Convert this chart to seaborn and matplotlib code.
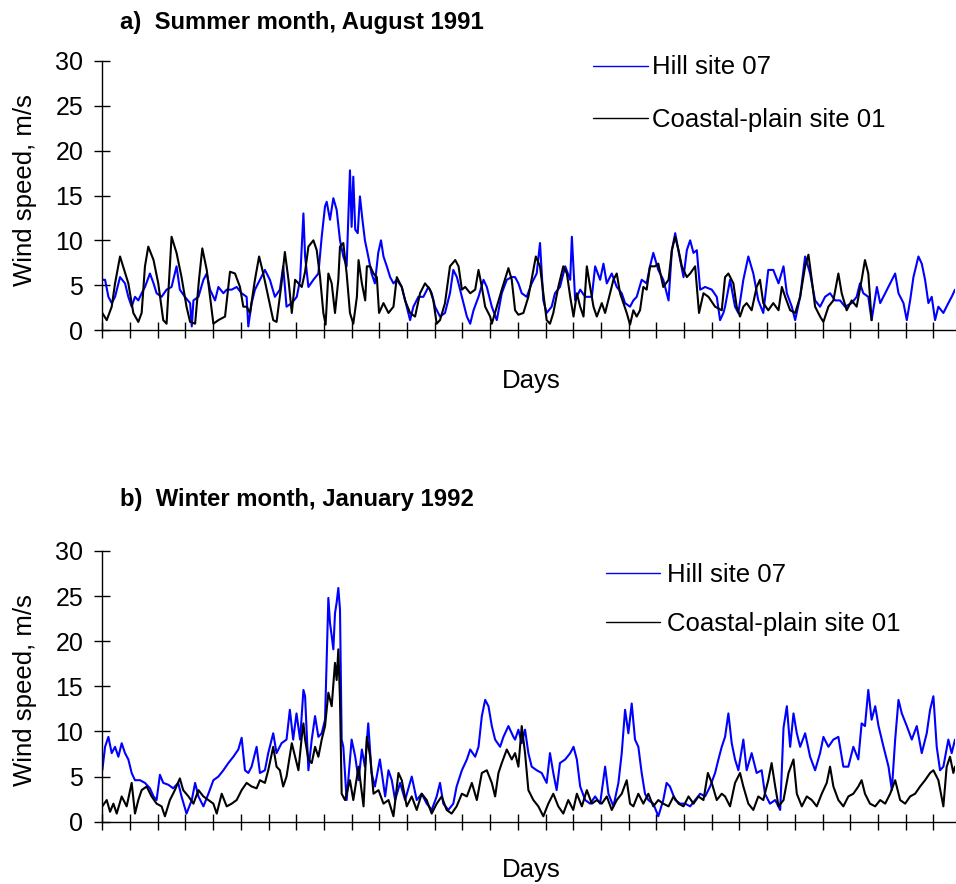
import numpy as np
import pandas as pd
import matplotlib
matplotlib.use("Agg")
import matplotlib.pyplot as plt
import seaborn as sns

sns.set_style("ticks", {"axes.edgecolor": "black", "xtick.color": "black",
                        "ytick.color": "black", "text.color": "black",
                        "axes.labelcolor": "black"})
plt.rcParams["font.family"] = ["Liberation Sans", "DejaVu Sans"]

# ---------------------------------------------------------------------------
# Wind speed records (day of month, m/s)
# ---------------------------------------------------------------------------
HILL = "Hill site 07"
COAST = "Coastal-plain site 01"

# a) August 1991
aug_hill_day = [
    0.00, 0.10, 0.22, 0.34, 0.46, 0.64, 0.82, 0.94, 1.06, 1.18, 1.30, 1.42, 1.54, 1.72, 1.85,
    1.96, 2.14, 2.32, 2.50, 2.68, 2.80, 2.98, 3.17, 3.23, 3.29, 3.47, 3.65, 3.77, 3.89, 4.07,
    4.19, 4.37, 4.49, 4.67, 4.85, 5.03, 5.21, 5.27, 5.39, 5.51, 5.69, 5.87, 6.05, 6.23, 6.41,
    6.53, 6.65, 6.84, 7.02, 7.14, 7.26,
    7.32, 7.44, 7.62, 7.80, 7.92, 8.04, 8.10, 8.22, 8.34, 8.46, 8.58, 8.70, 8.82, 8.94, 9.00,
    9.06, 9.13, 9.22, 9.30, 9.39, 9.48, 9.60, 9.72, 9.84, 9.96, 10.06, 10.15, 10.27, 10.39, 10.51,
    10.63, 10.81, 10.93, 11.11, 11.23, 11.41, 11.59, 11.77, 11.89, 12.01, 12.19, 12.37, 12.55, 12.67, 12.80,
    12.98, 13.16, 13.28, 13.40, 13.58, 13.76, 13.88, 14.06, 14.24, 14.42, 14.60, 14.78,
    14.90, 15.02, 15.14, 15.32, 15.50, 15.68, 15.80, 15.92, 16.04, 16.22, 16.34, 16.52, 16.71, 16.89, 16.95,
    17.07, 17.25, 17.43, 17.67, 17.79, 17.97, 18.09, 18.21, 18.39, 18.57, 18.75, 18.87, 19.05, 19.17, 19.29,
    19.47, 19.65, 19.77, 19.89, 20.07, 20.25, 20.44, 20.56, 20.68, 20.86, 20.98, 21.10, 21.22, 21.34, 21.46,
    21.58, 21.76, 22.00, 22.18, 22.30, 22.42,
    22.48, 22.66, 22.84, 22.96, 23.14, 23.32, 23.50, 23.68, 23.86, 24.04, 24.22, 24.41, 24.59, 24.71, 24.89,
    25.01, 25.19, 25.37, 25.55, 25.73, 25.91, 26.09, 26.27, 26.45, 26.63, 26.81, 27.05, 27.23, 27.35, 27.47,
    27.65, 27.77, 27.96, 28.08, 28.26, 28.44, 28.62, 28.74, 28.92, 29.04, 29.16, 29.28, 29.46, 29.58, 29.70,
    29.82, 29.94, 30.06, 30.18, 30.36, 30.54, 30.66, 30.78,
]
aug_hill_speed = [
    5.6, 5.6, 3.7, 3.0, 3.7, 5.9, 5.2, 3.7, 2.6, 3.7, 3.3, 4.1, 4.8, 6.3, 5.2,
    4.1, 3.7, 4.5, 4.8, 7.1, 4.5, 3.7, 3.0, 0.4, 3.3, 3.7, 5.6, 6.3, 4.5, 3.3,
    4.8, 4.1, 4.5, 4.5, 4.8, 4.1, 3.7, 0.4, 3.0, 4.5, 5.6, 6.7, 5.6, 3.7, 4.5,
    7.1, 2.6, 3.0, 3.7, 5.6, 13.0,
    8.2, 4.8, 5.6, 6.3, 10.4, 13.8, 14.3, 12.3, 14.7, 13.4, 10.0, 8.2, 7.1, 17.8, 11.5,
    17.1, 11.2, 10.8, 14.9, 12.3, 10.0, 8.2, 6.3, 5.2, 8.6, 10.0, 8.2, 7.1, 5.9, 5.2,
    5.6, 4.8, 3.3, 1.1, 2.6, 3.7, 3.7, 4.8, 4.1, 2.6, 1.5, 1.9, 4.1, 6.7, 5.9,
    3.7, 1.5, 0.7, 2.2, 3.7, 5.6, 4.8, 2.6, 1.1, 4.1, 5.6, 5.9,
    5.9, 5.2, 4.1, 3.7, 5.2, 6.3, 9.7, 3.3, 1.9, 2.6, 4.1, 4.8, 7.1, 5.6, 10.4,
    3.3, 4.5, 3.7, 3.7, 7.1, 5.6, 7.4, 5.2, 6.3, 4.8, 4.1, 3.0, 2.6, 3.3, 3.7,
    5.6, 5.2, 7.1, 8.6, 6.7, 5.6, 3.3, 8.9, 10.8, 7.8, 5.9, 8.9, 10.0, 8.6, 8.9,
    4.5, 4.8, 4.5, 3.7, 1.1, 1.9,
    2.6, 5.6, 2.6, 1.9, 5.6, 8.2, 6.3, 3.3, 1.9, 6.7, 6.7, 5.2, 7.1, 4.1, 2.6,
    1.1, 3.7, 8.2, 6.3, 3.3, 2.6, 3.7, 4.1, 3.3, 3.3, 2.6, 3.0, 3.7, 5.2, 4.1,
    3.7, 1.1, 4.8, 3.0, 4.1, 5.2, 6.3, 4.1, 3.0, 1.1, 3.3, 5.9, 8.2, 7.4, 5.6,
    3.0, 3.7, 1.1, 2.6, 1.9, 3.0, 3.7, 4.5,
]
aug_coast_day = [
    0.00, 0.16, 0.34, 0.46, 0.64, 0.79, 0.94, 1.12, 1.30, 1.42, 1.54, 1.66, 1.85, 2.02, 2.20,
    2.32, 2.41, 2.50, 2.68, 2.86, 3.04, 3.17, 3.35, 3.49, 3.61, 3.77, 3.89, 4.01, 4.19, 4.43,
    4.61, 4.79, 4.97, 5.09, 5.21, 5.33, 5.51, 5.66, 5.81, 5.99, 6.17, 6.29, 6.47, 6.59, 6.72,
    6.84, 6.96, 7.20,
    7.32, 7.44, 7.62, 7.74, 7.86, 7.98, 8.06, 8.16, 8.28, 8.40, 8.52, 8.58, 8.70, 8.82, 8.94,
    9.06, 9.19, 9.25, 9.37, 9.49, 9.55, 9.67, 9.79, 9.91, 9.99, 10.15, 10.33, 10.51, 10.63, 10.81,
    10.93, 11.11, 11.29, 11.47, 11.65, 11.83, 11.95, 12.07, 12.19, 12.37, 12.55, 12.74, 12.86, 12.98, 13.10,
    13.28, 13.46, 13.58, 13.70, 13.82, 14.00, 14.06, 14.24, 14.42, 14.66, 14.78,
    14.90, 15.02, 15.20, 15.38, 15.56, 15.65, 15.80, 15.92, 16.04, 16.16, 16.28, 16.46, 16.64, 16.77, 16.89,
    17.01, 17.13, 17.25, 17.37, 17.49, 17.61, 17.73, 17.85, 18.03, 18.15, 18.33, 18.45, 18.57, 18.69, 18.81,
    18.93, 19.05, 19.17, 19.29, 19.41, 19.53, 19.65, 19.77, 19.95, 20.07, 20.25, 20.44, 20.56, 20.68, 20.80,
    20.92, 21.10, 21.22, 21.40, 21.49, 21.54, 21.70, 21.88, 22.12, 22.36,
    22.48, 22.60, 22.78, 22.90, 23.02, 23.14, 23.26, 23.44, 23.62, 23.74, 23.86, 24.04, 24.22, 24.41, 24.53,
    24.65, 24.83, 25.01, 25.19, 25.37, 25.49, 25.61, 25.73, 25.91, 26.03, 26.21, 26.39, 26.57, 26.69, 26.87,
    27.05, 27.23, 27.41, 27.53, 27.65, 27.77,
]
aug_coast_speed = [
    1.9, 1.1, 2.6, 5.2, 8.2, 6.7, 5.2, 1.9, 0.9, 1.9, 7.1, 9.3, 7.8, 5.2, 1.1,
    0.7, 5.6, 10.4, 8.6, 5.9, 2.6, 0.9, 0.7, 5.6, 9.1, 6.7, 3.7, 0.7, 1.1, 1.5,
    6.5, 6.3, 4.8, 2.6, 2.6, 1.9, 5.6, 8.2, 6.3, 3.7, 1.1, 0.9, 5.2, 8.7, 5.6,
    1.9, 5.6, 4.8,
    6.5, 9.3, 10.0, 8.9, 5.9, 1.9, 0.6, 6.3, 5.2, 1.9, 5.6, 9.3, 9.7, 6.3, 1.9,
    0.7, 3.7, 7.8, 5.2, 3.3, 7.1, 7.1, 6.3, 5.9, 1.9, 3.0, 1.9, 2.6, 5.9, 4.8,
    3.3, 1.9, 1.5, 4.1, 5.2, 4.5, 3.3, 0.7, 1.1, 3.0, 7.1, 7.8, 7.1, 4.5, 4.8,
    4.1, 4.5, 6.7, 4.8, 2.6, 1.5, 0.7, 2.6, 4.5, 6.9, 5.6,
    2.2, 1.7, 1.9, 3.7, 6.7, 8.2, 7.1, 4.1, 1.1, 0.7, 1.9, 4.8, 7.1, 6.3, 3.7,
    1.5, 4.1, 2.6, 1.5, 7.1, 4.8, 2.6, 1.5, 3.0, 1.9, 4.1, 5.6, 6.3, 4.1, 3.0,
    1.9, 0.6, 2.2, 1.5, 2.2, 4.8, 4.5, 7.1, 7.1, 7.4, 4.8, 5.6, 8.9, 10.4, 8.9,
    7.1, 5.9, 6.3, 7.1, 3.7, 1.9, 4.1, 3.7, 2.6, 2.2,
    5.9, 6.3, 5.2, 2.6, 1.5, 2.6, 3.0, 2.2, 4.8, 5.6, 3.0, 2.2, 3.0, 2.2, 4.8,
    3.7, 2.2, 1.9, 3.7, 7.1, 8.4, 5.6, 2.6, 1.5, 0.9, 2.6, 3.3, 6.3, 4.1, 2.2,
    3.3, 2.6, 5.6, 7.8, 6.3, 1.1,
]

# b) January 1992
jan_hill_day = [
    0.00, 0.10, 0.22, 0.34, 0.46, 0.58, 0.70, 0.82, 0.94, 1.06, 1.18, 1.36, 1.54, 1.72, 1.85,
    1.96, 2.08, 2.20, 2.38, 2.56, 2.74, 2.86, 3.04, 3.23, 3.35, 3.47, 3.65, 3.83, 4.01, 4.19,
    4.37, 4.55, 4.73, 4.91, 5.03, 5.15, 5.27, 5.39, 5.57, 5.69, 5.87, 5.99, 6.17, 6.29, 6.47,
    6.65, 6.77, 6.89, 7.01, 7.14, 7.26,
    7.32, 7.44, 7.56, 7.68, 7.80, 7.92, 8.04, 8.16, 8.22, 8.28, 8.34, 8.40, 8.46, 8.52, 8.58,
    8.64, 8.70, 8.82, 9.00, 9.13, 9.25, 9.37, 9.48, 9.60, 9.72, 9.84, 10.02, 10.21, 10.33, 10.45,
    10.57, 10.75, 10.93, 11.17, 11.35, 11.53, 11.71, 11.89, 12.07, 12.19, 12.31, 12.49, 12.67, 12.79, 12.98,
    13.16, 13.28, 13.46, 13.58, 13.70, 13.82, 13.94, 14.06, 14.18, 14.36, 14.48, 14.66, 14.84,
    14.90, 15.02, 15.14, 15.26, 15.38, 15.50, 15.68, 15.86, 16.04, 16.16, 16.28, 16.40, 16.52, 16.71, 16.89,
    17.01, 17.13, 17.25, 17.43, 17.61, 17.79, 17.97, 18.15, 18.27, 18.45, 18.63, 18.75, 18.87, 18.99, 19.11,
    19.23, 19.35, 19.47, 19.59, 19.71, 19.89, 20.07, 20.25, 20.37, 20.49, 20.68, 20.86, 21.04, 21.22, 21.40,
    21.58, 21.76, 21.94, 22.12, 22.24, 22.36,
    22.48, 22.60, 22.72, 22.84, 22.96, 23.14, 23.26, 23.44, 23.62, 23.80, 23.92, 24.10, 24.29, 24.47, 24.59,
    24.71, 24.83, 24.95, 25.07, 25.19, 25.37, 25.55, 25.73, 25.91, 26.03, 26.21, 26.39, 26.57, 26.75, 26.93,
    27.11, 27.29, 27.41, 27.53, 27.65, 27.77, 27.90, 28.02, 28.20, 28.38, 28.50, 28.62, 28.74, 28.86, 29.04,
    29.22, 29.40, 29.58, 29.76, 29.88, 30.00, 30.12, 30.24, 30.36, 30.54, 30.66, 30.78,
]
jan_hill_speed = [
    5.7, 8.3, 9.4, 7.6, 8.3, 7.2, 8.7, 7.6, 6.9, 5.4, 4.6, 4.6, 4.3, 3.7, 2.8,
    2.4, 5.2, 4.3, 4.1, 3.7, 4.3, 2.8, 0.9, 2.4, 4.3, 2.8, 1.7, 3.1, 4.6, 5.0,
    5.7, 6.5, 7.2, 8.0, 9.3, 5.7, 5.4, 6.1, 8.3, 5.4, 5.7, 7.6, 9.8, 7.6, 8.7,
    9.1, 12.4, 9.1, 12.0, 9.1, 14.6,
    13.9, 5.7, 9.1, 11.7, 9.4, 9.8, 11.3, 24.8, 22.0, 20.6, 19.1, 23.1, 24.3, 25.9, 23.5,
    9.1, 8.3, 2.4, 9.1, 7.2, 4.6, 8.0, 6.1, 10.9, 5.4, 3.9, 6.9, 2.8, 5.7, 4.6,
    2.4, 4.3, 2.4, 5.0, 2.4, 3.1, 2.0, 1.3, 2.8, 4.3, 2.0, 1.3, 2.0, 3.9, 5.7,
    6.9, 8.0, 7.2, 8.3, 11.7, 13.5, 12.8, 10.6, 9.1, 8.3, 9.4, 10.6, 9.4,
    9.1, 10.2, 8.7, 10.2, 7.6, 6.1, 5.7, 5.4, 4.3, 7.6, 5.4, 3.5, 6.5, 6.9, 7.6,
    8.3, 6.9, 3.9, 2.4, 2.0, 2.8, 2.0, 6.1, 3.1, 1.7, 4.3, 7.6, 12.4, 9.8, 13.1,
    9.1, 8.3, 5.4, 3.1, 2.4, 2.0, 0.6, 2.4, 4.3, 3.9, 2.4, 2.0, 2.0, 1.7, 2.4,
    3.1, 2.8, 3.9, 5.4, 6.9, 8.3,
    9.4, 12.0, 8.7, 6.9, 5.7, 9.1, 5.7, 7.6, 5.4, 5.7, 3.1, 2.0, 2.4, 1.3, 10.4,
    12.8, 8.3, 12.0, 9.8, 8.3, 9.8, 7.2, 5.7, 7.6, 9.4, 8.3, 9.1, 9.4, 6.1, 6.1,
    8.3, 6.9, 10.9, 10.6, 14.6, 11.3, 12.8, 10.6, 8.3, 6.1, 3.5, 9.1, 13.5, 12.0, 10.6,
    9.1, 10.6, 7.6, 9.8, 12.4, 13.9, 8.3, 5.7, 6.1, 9.1, 7.6, 9.1,
]
jan_coast_day = [
    0.00, 0.16, 0.28, 0.40, 0.52, 0.70, 0.88, 1.06, 1.18, 1.30, 1.42, 1.60, 1.78, 1.96, 2.14,
    2.26, 2.44, 2.62, 2.80, 2.92, 3.11, 3.29, 3.47, 3.65, 3.83, 4.01, 4.13, 4.31, 4.49, 4.67,
    4.85, 5.03, 5.21, 5.39, 5.57, 5.69, 5.87, 5.99, 6.17, 6.29, 6.41, 6.53, 6.65, 6.84, 6.96,
    7.08, 7.20, 7.26,
    7.32, 7.44, 7.56, 7.68, 7.80, 7.92, 8.04, 8.16, 8.28, 8.40, 8.46, 8.52, 8.58, 8.64, 8.76,
    8.94, 9.06, 9.25, 9.43, 9.55, 9.67, 9.79, 9.97, 10.15, 10.33, 10.51, 10.69, 10.81, 10.99, 11.17,
    11.35, 11.53, 11.71, 11.89, 12.07, 12.25, 12.43, 12.61, 12.79, 12.98, 13.16, 13.34, 13.52, 13.70, 13.88,
    14.06, 14.18, 14.30, 14.42, 14.60, 14.78,
    14.90, 15.02, 15.14, 15.26, 15.38, 15.56, 15.74, 15.92, 16.10, 16.28, 16.46, 16.64, 16.82, 17.00, 17.13,
    17.31, 17.49, 17.67, 17.85, 18.03, 18.21, 18.39, 18.57, 18.75, 18.93, 19.05, 19.17, 19.35, 19.53, 19.71,
    19.89, 20.07, 20.25, 20.44, 20.62, 20.80, 20.98, 21.16, 21.34, 21.52, 21.70, 21.86, 22.00, 22.18, 22.36,
    22.48, 22.66, 22.84, 23.02, 23.14, 23.32, 23.50, 23.68, 23.86, 24.04, 24.16, 24.29, 24.41, 24.59, 24.77,
    24.95, 25.07, 25.25, 25.43, 25.61, 25.79, 25.97, 26.15, 26.27, 26.39, 26.57, 26.75, 26.93, 27.11, 27.29,
    27.41, 27.53, 27.71, 27.90, 28.08, 28.26, 28.44, 28.62, 28.80, 28.98, 29.16, 29.34, 29.52, 29.70, 29.88,
    30.00, 30.18, 30.36, 30.48, 30.60, 30.72, 30.78,
]
jan_coast_speed = [
    1.7, 2.4, 1.1, 2.0, 0.9, 2.8, 1.7, 4.3, 0.9, 2.4, 3.5, 3.9, 2.8, 2.0, 1.7,
    0.6, 2.4, 3.5, 4.8, 3.5, 2.8, 2.0, 3.5, 2.8, 2.4, 2.0, 0.9, 3.1, 1.7, 2.0,
    2.4, 3.5, 4.3, 3.9, 3.7, 4.6, 4.3, 5.7, 8.3, 6.1, 5.7, 3.9, 5.0, 8.7, 7.2,
    5.7, 9.4, 10.9,
    9.1, 6.9, 6.5, 8.3, 7.2, 9.1, 10.6, 14.3, 12.8, 17.6, 15.7, 19.1, 13.5, 3.1, 2.4,
    4.6, 2.4, 6.1, 1.7, 9.4, 7.2, 3.1, 3.5, 2.0, 2.4, 0.6, 5.4, 4.6, 1.7, 2.8,
    1.3, 3.1, 2.4, 0.9, 2.0, 2.8, 1.3, 0.9, 1.7, 3.1, 2.8, 4.3, 2.4, 5.4, 5.7,
    4.3, 2.8, 5.4, 6.5, 8.0, 6.9,
    7.6, 6.1, 10.6, 7.6, 3.5, 2.4, 1.7, 0.6, 2.0, 3.1, 1.7, 0.9, 2.4, 1.3, 3.1,
    1.7, 3.5, 2.0, 2.4, 2.0, 2.8, 1.3, 2.4, 3.1, 4.6, 2.0, 1.7, 3.1, 2.0, 3.1,
    1.7, 2.4, 2.0, 1.7, 2.8, 2.0, 1.7, 2.8, 2.0, 2.8, 2.4, 5.4, 4.3, 2.4, 3.1,
    2.8, 1.7, 4.3, 5.4, 3.9, 2.0, 1.3, 2.8, 2.4, 4.6, 6.5, 3.9, 1.7, 2.4, 5.4,
    6.9, 3.1, 1.7, 2.8, 2.4, 1.7, 3.1, 4.3, 6.1, 3.9, 2.4, 1.7, 2.8, 3.1, 3.9,
    4.6, 3.1, 2.0, 1.7, 2.4, 2.0, 3.1, 4.6, 2.4, 2.0, 2.8, 3.1, 3.9, 4.6, 5.4,
    5.7, 4.6, 1.7, 6.1, 7.2, 5.4, 6.1,
]

y_ticks = [0, 5, 10, 15, 20, 25, 30]
day_ticks = list(range(0, 31))
panel_titles = ["a)  Summer month, August 1991", "b)  Winter month, January 1992"]

palette = {HILL: "#0000ff", COAST: "#000000"}


def site_frame(hill_day, hill_speed, coast_day, coast_speed):
    return pd.concat([
        pd.DataFrame({"day": hill_day, "speed": hill_speed, "site": HILL}),
        pd.DataFrame({"day": coast_day, "speed": coast_speed, "site": COAST}),
    ], ignore_index=True)


W, H = 956, 884
fig = plt.figure(figsize=(W / 100, H / 100), dpi=100)


def add_axes_px(left, top, right, bottom):
    return fig.add_axes([left / W, 1 - bottom / H, (right - left) / W, (bottom - top) / H])


ax_a = add_axes_px(102.3, 61, 955, 330)
ax_b = add_axes_px(102.3, 551, 955, 821.7)

panels = [
    (ax_a, site_frame(aug_hill_day, aug_hill_speed, aug_coast_day, aug_coast_speed)),
    (ax_b, site_frame(jan_hill_day, jan_hill_speed, jan_coast_day, jan_coast_speed)),
]

for ax, df in panels:
    sns.lineplot(data=df, x="day", y="speed", hue="site", hue_order=[HILL, COAST],
                 palette=palette, estimator=None, linewidth=1.5, ax=ax)
    ax.set_xlim(0, 30.78)
    ax.set_ylim(0, 30)
    ax.set_xticks(day_ticks)
    ax.set_xticklabels([])
    ax.set_yticks(y_ticks)
    ax.tick_params(axis="both", direction="inout", length=11.5, width=1.0,
                   colors="black", labelsize=18, pad=8)
    ax.set_xlabel("")
    ax.set_ylabel("")
    for side in ("top", "right"):
        ax.spines[side].set_visible(False)
    for side in ("left", "bottom"):
        ax.spines[side].set_linewidth(1.0)
        ax.spines[side].set_color("black")
    ax.get_legend().remove()

# legends placed to the upper right of each panel
legend_specs = [
    (ax_a, 593, 55.5, 2.15, 0.16, 1.12),
    (ax_b, 606, 562.5, 2.1, 0.26, 1.0),
]
for ax, lx, ly, hlen, hpad, lspace in legend_specs:
    handles, labels = ax.get_legend_handles_labels()
    for h in handles:
        h.set_linewidth(1.0)
    ax.legend(handles, labels, loc="upper left",
              bbox_to_anchor=(lx / W, 1 - ly / H), bbox_transform=fig.transFigure,
              frameon=False, fontsize=18.5, handlelength=hlen, handletextpad=hpad,
              labelspacing=lspace, borderpad=0, borderaxespad=0)

# titles, axis labels
fig.text(120 / W, 1 - 29 / H, panel_titles[0], fontsize=17.2, fontweight="bold",
         ha="left", va="baseline")
fig.text(120 / W, 1 - 506 / H, panel_titles[1], fontsize=17.2, fontweight="bold",
         ha="left", va="baseline").set_fontstretch("expanded")
for yc in (190, 690):
    fig.text(25 / W, 1 - yc / H, "Wind speed, m/s", fontsize=18.5, rotation=90,
             ha="center", va="center")
for yb in (388, 877):
    fig.text(531 / W, 1 - yb / H, "Days", fontsize=18.5, ha="center", va="baseline")

fig.savefig("out.png", dpi=100)
